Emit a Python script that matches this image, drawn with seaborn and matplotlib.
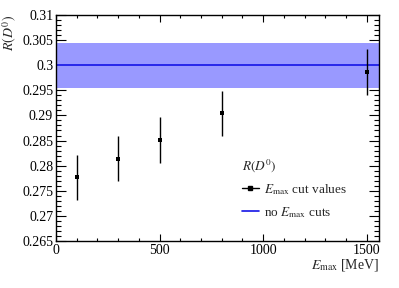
import matplotlib
matplotlib.use("Agg")
import matplotlib.pyplot as plt
import seaborn as sns
import numpy as np
import pandas as pd
from matplotlib.ticker import MultipleLocator
from matplotlib.lines import Line2D

# valeurs
e_max = [100, 300, 500, 800, 1500]
r_d0 = [0.2777, 0.2814, 0.2851, 0.2904, 0.2986]
r_err = [0.0045, 0.0045, 0.0045, 0.0045, 0.0046]
r_nocut = 0.3000
r_nocut_err = 0.0045

df = pd.DataFrame({"Emax": e_max, "R": r_d0, "err": r_err})

sns.set_style("ticks")
plt.rcParams["font.family"] = ["Liberation Serif", "DejaVu Serif"]
plt.rcParams["mathtext.fontset"] = "stix"

fig = plt.figure(figsize=(3.99, 2.88), dpi=100)
ax = fig.add_axes([0.1404, 0.1632, 0.8096, 0.7848])

# bande sans coupure
ax.axhspan(r_nocut - r_nocut_err, r_nocut + r_nocut_err, color="#9999ff", lw=0, zorder=1)
ax.axhline(r_nocut, color="#1414e6", lw=1.2, zorder=2)

ax.errorbar(df["Emax"], df["R"], yerr=df["err"], fmt="none", ecolor="black",
            elinewidth=1.0, capsize=0, zorder=3)
sns.scatterplot(data=df, x="Emax", y="R", marker="s", s=9, color="black",
                edgecolor="black", linewidth=0, ax=ax, zorder=4)

ax.set_xlim(0, 1560)
ax.set_ylim(0.265, 0.31)
ax.xaxis.set_major_locator(MultipleLocator(500))
ax.xaxis.set_minor_locator(MultipleLocator(100))
ax.yaxis.set_major_locator(MultipleLocator(0.005))
ax.yaxis.set_minor_locator(MultipleLocator(0.001))
ax.yaxis.set_major_formatter(plt.FuncFormatter(lambda v, p: "%g" % round(v, 4)))

ax.tick_params(which="both", direction="in", top=True, right=True,
               labelsize=10, colors="black", width=0.8)
ax.tick_params(which="major", axis="x", length=5, pad=2)
ax.tick_params(which="minor", axis="x", length=2.5)
ax.tick_params(which="major", axis="y", length=7, pad=2)
ax.tick_params(which="minor", axis="y", length=3.5)
for s in ax.spines.values():
    s.set_linewidth(1.0)
    s.set_color("black")

ax.set_xlabel(r"$E_{\mathrm{max}}$ [MeV]", fontsize=10, ha="right", x=1.0, labelpad=0)
ax.set_ylabel(r"$R(D^0)$", fontsize=10, ha="right", y=1.0, labelpad=2)

handles = [
    Line2D([], [], color="black", marker="s", markersize=3, lw=1.0),
    Line2D([], [], color="#1414e6", lw=1.2),
]
leg = ax.legend(handles, [r"$E_{\mathrm{max}}$ cut values", r"no $E_{\mathrm{max}}$ cuts"],
                title=r"$R(D^0)$", loc="upper left", bbox_to_anchor=(0.575, 0.37),
                frameon=False, fontsize=9.5, title_fontsize=9.5, handlelength=1.3,
                handletextpad=0.4, labelspacing=0.6, borderpad=0, borderaxespad=0)
leg._legend_box.align = "left"

fig.savefig("out.png", dpi=100)
